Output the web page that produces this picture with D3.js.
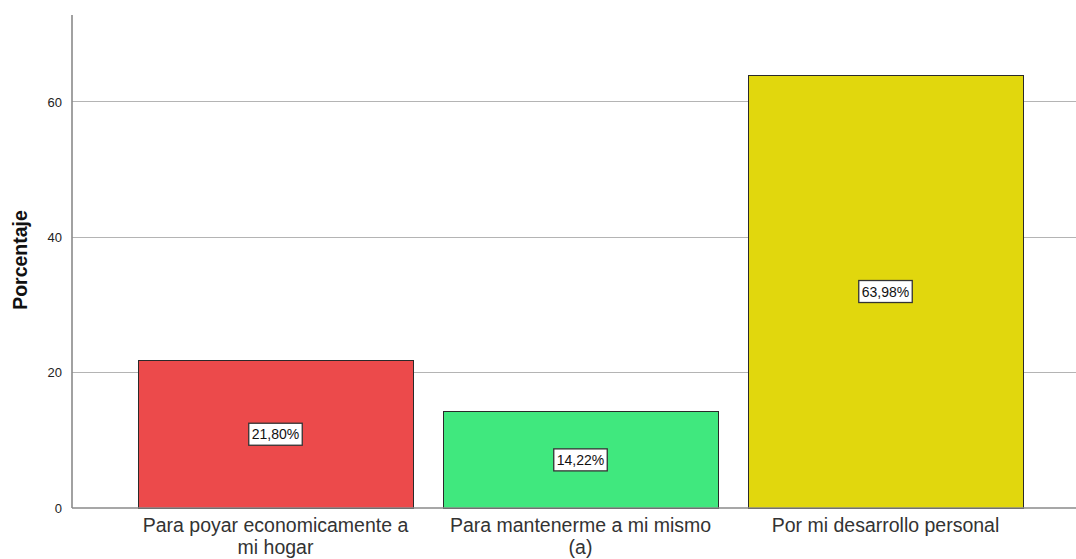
<!DOCTYPE html>
<html><head><meta charset="utf-8">
<script src="https://cdn.jsdelivr.net/npm/d3@7"></script>
<style>body{margin:0;background:#fff}svg{display:block;font-family:"Liberation Sans",Arial,sans-serif}</style>
</head><body><svg id="c" width="1076" height="559"></svg>
<script>
const categories = ["Para poyar economicamente a mi hogar", "Para mantenerme a mi mismo (a)", "Por mi desarrollo personal"];
const values = [21.80, 14.22, 63.98];
const valueLabels = ["21,80%", "14,22%", "63,98%"];
const colors = ["#ec4a4b", "#40e87e", "#e1d70d"];
const yTicks = [0, 20, 40, 60];
const yTitle = "Porcentaje";

const svg = d3.select("#c");
const x0 = 72, xEnd = 1076, yBase = 508, yTop = 15;
const y = d3.scaleLinear().domain([0, 72.85]).range([yBase, yTop]);
const x = d3.scaleBand().domain(categories).range([123, 1038]).paddingInner(30/305).paddingOuter(15/305);

// gridlines
svg.append("g").selectAll("line").data(yTicks.filter(d => d > 0)).join("line")
  .attr("x1", x0).attr("x2", xEnd).attr("y1", d => y(d)).attr("y2", d => y(d))
  .attr("stroke", "#b4b4b4").attr("stroke-width", 1).attr("shape-rendering", "crispEdges");

// y axis
const yAxis = d3.axisLeft(y).tickValues(yTicks).tickSize(0).tickPadding(10).tickFormat(d3.format("d"));
const ga = svg.append("g").attr("transform", `translate(${x0},0)`).call(yAxis);
ga.select(".domain").remove();
ga.selectAll("text").attr("font-size", 13).attr("fill", "#222").attr("font-family", "'Liberation Sans',Arial,sans-serif");

// bars
svg.append("g").selectAll("rect").data(values).join("rect")
  .attr("x", (d, i) => x(categories[i])).attr("width", x.bandwidth())
  .attr("y", d => y(d)).attr("height", d => yBase - y(d))
  .attr("fill", (d, i) => colors[i]).attr("stroke", "#2a2a2a").attr("stroke-width", 1)
  .attr("shape-rendering", "crispEdges");

// axis lines
svg.append("line").attr("x1", x0).attr("x2", x0).attr("y1", yTop).attr("y2", yBase)
  .attr("stroke", "#8a8a8a").attr("stroke-width", 1.6);
svg.append("line").attr("x1", x0).attr("x2", xEnd).attr("y1", yBase).attr("y2", yBase)
  .attr("stroke", "#8a8a8a").attr("stroke-width", 1.6);

// value labels
const lg = svg.append("g").selectAll("g").data(values).join("g")
  .attr("transform", (d, i) => `translate(${x(categories[i]) + x.bandwidth()/2},${(y(d) + yBase)/2})`);
lg.each(function(d, i) {
  const g = d3.select(this);
  const t = g.append("text").text(valueLabels[i]).attr("text-anchor", "middle").attr("dy", "0.36em")
    .attr("font-size", 14).attr("fill", "#111");
  const bb = t.node().getBBox();
  g.insert("rect", "text").attr("x", bb.x - 3).attr("y", -11).attr("width", bb.width + 6).attr("height", 22)
    .attr("fill", "#fff").attr("stroke", "#333").attr("stroke-width", 1.3);
});

// x labels with wrap (one text element per line)
const maxW = 280, fs = 19.5;
categories.forEach((c, i) => {
  const cx = x(c) + x.bandwidth()/2;
  const probe = svg.append("text").attr("font-size", fs);
  const words = c.split(" ");
  let line = [], lines = [];
  words.forEach(w => {
    line.push(w);
    probe.text(line.join(" "));
    if (probe.node().getComputedTextLength() > maxW && line.length > 1) {
      line.pop(); lines.push(line.join(" ")); line = [w];
    }
  });
  lines.push(line.join(" "));
  probe.remove();
  lines.forEach((l, k) => svg.append("text").attr("text-anchor", "middle").attr("font-size", fs)
    .attr("fill", "#333").attr("x", cx).attr("y", 532 + k * 22).text(l));
});

// y title
svg.append("text").attr("transform", "translate(27,260) rotate(-90)").attr("text-anchor", "middle")
  .attr("font-size", 19.5).attr("font-weight", "bold").attr("fill", "#111").text(yTitle);
</script></body></html>
